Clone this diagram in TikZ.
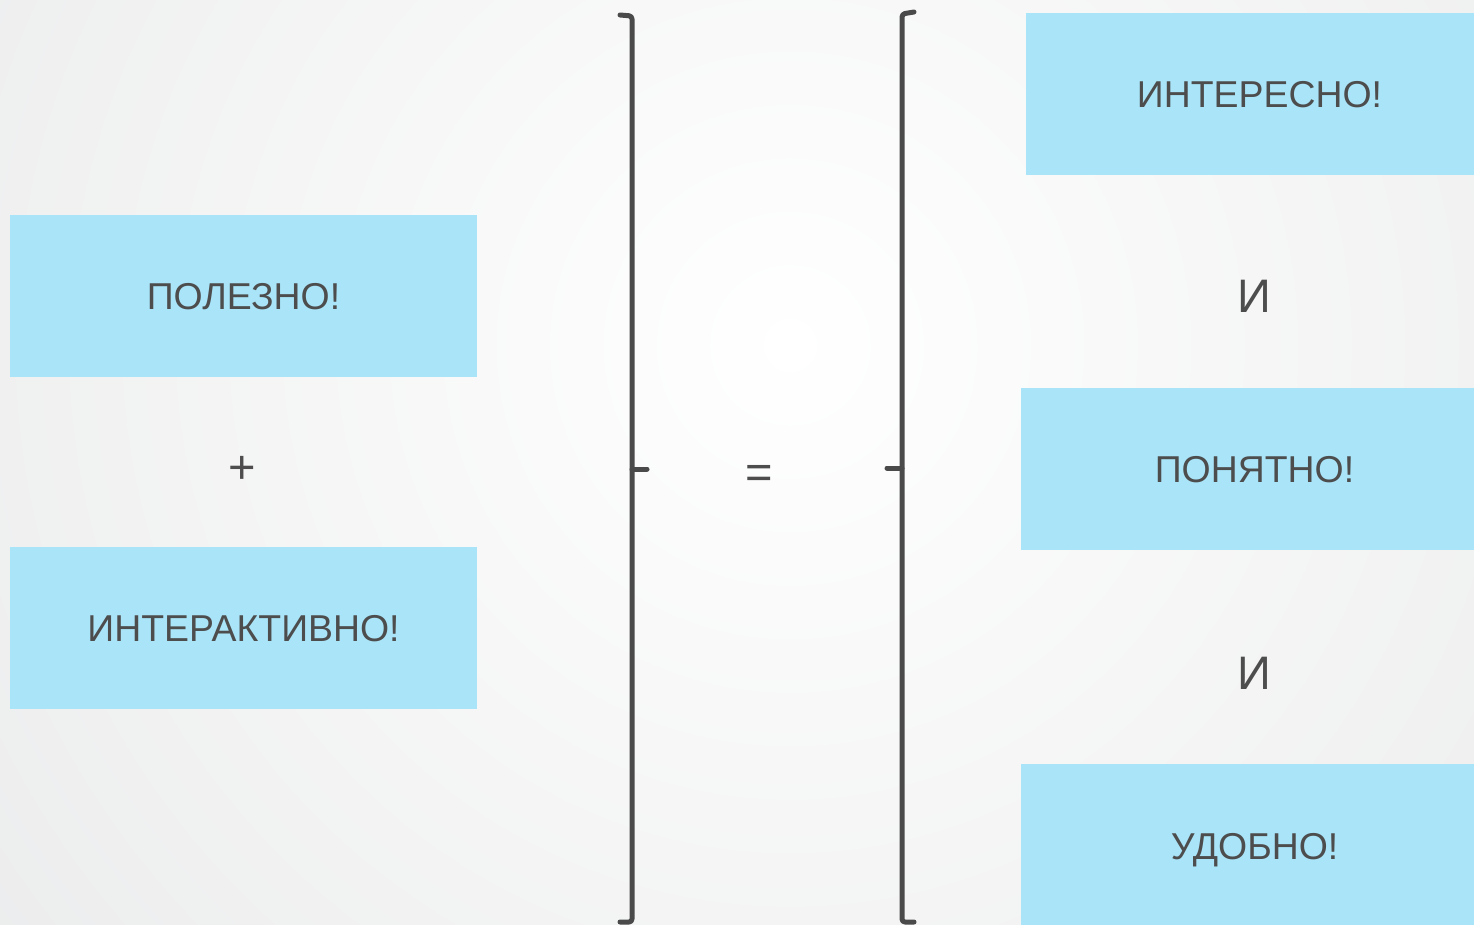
\documentclass[tikz,border=0pt]{standalone}
\usepackage{fontspec}
\setmainfont{Liberation Sans}
\definecolor{boxblue}{HTML}{A9E4F8}
\definecolor{txtgray}{HTML}{4D4D4D}
\definecolor{brgray}{HTML}{4A4A4A}
\definecolor{bgouter}{HTML}{E1E2E3}
\tikzset{
  card/.style={fill=boxblue, draw=none, minimum width=467pt, minimum height=162pt,
    inner sep=0pt, text=txtgray, font=\fontsize{37.4}{40}\selectfont, text depth=0pt},
  bigsym/.style={text=txtgray, font=\fontsize{47}{50}\selectfont, inner sep=0pt, anchor=base},
  bracketline/.style={draw=brgray, line width=5pt, line cap=round, line join=round, rounded corners=3pt}
}
\begin{document}
\begin{tikzpicture}[x=1pt,y=-1pt]
\useasboundingbox (0,0) rectangle (1474,924);
\clip (0,0) rectangle (1474,924);
\shade[inner color=white, outer color=bgouter] (790,345) circle (1550);
% left column
\node[card] (polezno) at (243.5,296) {ПОЛЕЗНО!};
\node[bigsym] (plus) at (242,483) {+};
\node[card] (interakt) at (243.5,628) {ИНТЕРАКТИВНО!};
% equals
\node[bigsym] (eq) at (759,488) {=};
% right column
\node[card] (interesno) at (1259.5,94) {ИНТЕРЕСНО!};
\node[bigsym] (and1) at (1254,312) {И};
\node[card] (ponyatno) at (1254.5,469) {ПОНЯТНО!};
\node[bigsym] (and2) at (1254,689) {И};
\node[card, minimum height=164pt] (udobno) at (1254.5,846) {УДОБНО!};
% brackets
\draw[bracketline] (620,15) -- (632,16) -- (632,922) -- (620,922);
\draw[bracketline] (632,469) -- (647,469);
\draw[bracketline] (914,12) -- (902,14) -- (902,922) -- (914,922);
\draw[bracketline] (902,468) -- (887,468);
\end{tikzpicture}
\end{document}
